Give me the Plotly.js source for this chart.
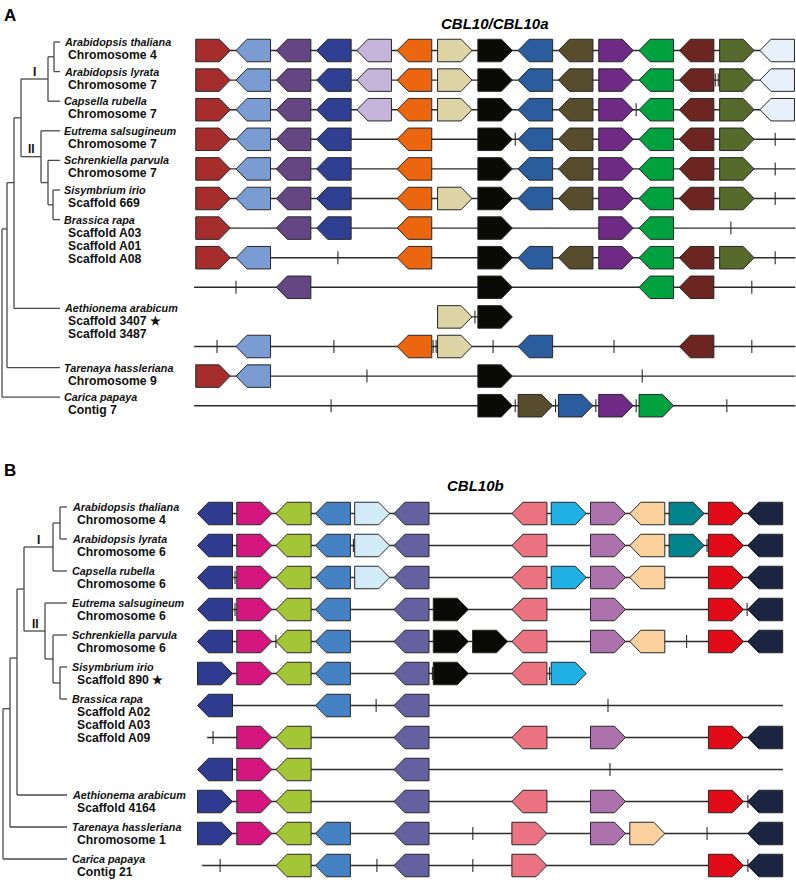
<!DOCTYPE html>
<html><head><meta charset="utf-8">
<script src="https://cdn.plot.ly/plotly-3.0.1.min.js"></script>
<style>html,body{margin:0;padding:0;background:#fff}#chart{width:796px;height:880px}</style>
</head><body><div id="chart"></div>
<script>
// ---------------- DATA: Panel A (CBL10/CBL10a) ----------------
const titleA = 'CBL10/CBL10a';
const famColorsA = ['#a52d2c','#7b9bd3','#634682','#2f3f92','#c6b5da','#ec650f','#ddd4a6','#0b0b06','#2b5c9e','#574c2b','#6e2a85','#00a23f','#6c2521','#566b2b','#e8f1fb'];
// one string per row, one char per column: '>' forward gene, '<' reverse gene, '.' absent
const rowsA = [
  '><<<<<>><<><<><',
  '><<<<<>><<><<><',
  '><<<<<>><<><<><',
  '><<<.<.><<><<>.',
  '><<<.<.><<><<>.',
  '><<<.<>><<><<>.',
  '>.<<.<.>..><...',
  '><...<.><<><<>.',
  '..<....>...<<..',
  '......>>.......',
  '.<...<>.<...<..',
  '><.....>.......',
  '.......>>>>>...'
];
const famSwapA = {12: {8: 9, 9: 8}};           // row -> {column: family}
const lineSpanA = [[0,14],[0,14],[0,14],[0,14.45],[0,14.45],[0,14.45],[0,14.45],[0,14.45],[-0.47,14.45],[6,7],[-0.47,14.45],[0,14.45],[-0.47,14.45]];
const ticksA = [[],[],[10.5],[7.5,13.95],[13.95],[13.95],[12.85],[3.1,13.95],[0.57,13.37],[6.5],[0.1,3.0,6.95,9.95,13.37],[3.82,10.65],[2.93,7.5,8.5,9.5,10.5,12.75]];
const doubleTicksA = [[],[12.5],[],[],[],[],[],[],[],[],[5.5],[],[]];
const speciesA = ['Arabidopsis thaliana','Arabidopsis lyrata','Capsella rubella','Eutrema salsugineum','Schrenkiella parvula','Sisymbrium irio','Brassica rapa','Aethionema arabicum','Tarenaya hassleriana','Carica papaya'];
const subA = [['Chromosome 4'],['Chromosome 7'],['Chromosome 7'],['Chromosome 7'],['Chromosome 7'],['Scaffold 669'],['Scaffold A03','Scaffold A01','Scaffold A08'],['Scaffold 3407 ★','Scaffold 3487'],['Chromosome 9'],['Contig 7']];
const firstRowA = [0,1,2,3,4,5,6,9,11,12];

// ---------------- DATA: Panel B (CBL10b) ----------------
const titleB = 'CBL10b';
const famColorsB = ['#2e3b8f','#d4177f','#a3c636','#4482c4','#d3ebf9','#6461a0','#0b0b06','#0b0b06','#ec7482','#1fb1e6','#ad72ad','#fcd19d','#00838a','#e20a17','#1b2541'];
const rowsB = [
  '<><<><..<>><>><',
  '<><<><..<.><>><',
  '<><<><..<>><.><',
  '<><<.<>.<.>..><',
  '<><<.<>><.><.><',
  '>><<.<>.<>.....',
  '<..<.<.........',
  '.><..<..<.>..><',
  '<><..<.........',
  '>><..<..<.>..><',
  '>><<.<..>.>>..<',
  '..<<.<..>....><'
];
const famSwapB = {};
const lineSpanB = [[0,14],[0,14],[0,14],[0,14],[0,14],[0,9],[0,14.45],[-0.2,14],[0,14.45],[0,14],[0,14],[-0.33,14]];
const ticksB = [[],[12.52],[0.51],[0.51,13.54],[1.55,12.0],[],[4.1,10.0],[-0.05],[10.05],[13.56],[6.56,12.52],[0.13,4.12,6.56,13.56]];
const doubleTicksB = [[],[3.56],[],[],[],[5.57,8.55],[],[],[],[],[],[]];
const speciesB = ['Arabidopsis thaliana','Arabidopsis lyrata','Capsella rubella','Eutrema salsugineum','Schrenkiella parvula','Sisymbrium irio','Brassica rapa','Aethionema arabicum','Tarenaya hassleriana','Carica papaya'];
const subB = [['Chromosome 4'],['Chromosome 6'],['Chromosome 6'],['Chromosome 6'],['Chromosome 6'],['Scaffold 890 ★'],['Scaffold A02','Scaffold A03','Scaffold A09'],['Scaffold 4164'],['Chromosome 1'],['Contig 21']];
const firstRowB = [0,1,2,3,4,5,6,9,10,11];

// ---------------- TREES (topology; x = drawing depth, f = attach fraction) ----------------
function N(x, kids, opts) { return Object.assign({x:x, kids:kids, f:0.5}, opts || {}); }
const treeA = N(2, [9, N(7, [8, N(14, [7, N(21, [
  N(48, [N(54, [0, 1]), 2], {label:'I', lx:34}),
  N(41, [3, N(48, [4, N(53, [5, 6])])], {label:'II', lx:31})
])], {f:0.34})], {f:0.25})]);
const treeB = N(3, [9, N(10, [8, N(17, [7, N(24, [
  N(53, [N(60, [0, 1]), 2], {label:'I', lx:38.5}),
  N(45, [3, N(53, [4, N(60, [5, 6])])], {label:'II', lx:35})
])], {f:0.335})], {f:0.3})]);

// ---------------- LAYOUT (geometry only) ----------------
const FONT = 'Liberation Sans, Arial, sans-serif';
const geomA = {letter:'A', letterY:15, titleX:495, titleY:23, colX0:213, colPitch:40.3, rowY0:50.5, rowPitch:29.6, geneW:34.5, geneH:22.5, tip:11,
  nameX:62, subX:66, leafEnd:60, nameDy:-8.5, subDy:13};
const geomB = {letter:'B', letterY:470, titleX:475, titleY:485, colX0:215, colPitch:39.3, rowY0:513.5, rowPitch:32, geneW:35, geneH:22.5, tip:11,
  nameX:70, subX:75, leafEnd:67, nameDy:-6.5, subDy:13};

const traces = [];
const annotations = [];

function buildPanel(g, rows, famColors, famSwap, lineSpan, ticks, dticks, species, subs, firstRow, tree, title) {
  const cx = c => g.colX0 + g.colPitch * c;
  const ry = r => g.rowY0 + g.rowPitch * r;
  // backbone lines
  const lx = [], ly = [];
  lineSpan.forEach((s, r) => { lx.push(cx(s[0]), cx(s[1]), null); ly.push(ry(r), ry(r), null); });
  traces.push({type:'scatter', mode:'lines', x:lx, y:ly, line:{color:'#2b2b2b', width:1.4}, hoverinfo:'skip'});
  // ticks
  const tx = [], ty = [];
  ticks.forEach((arr, r) => arr.forEach(t => { tx.push(cx(t), cx(t), null); ty.push(ry(r)-6.5, ry(r)+6.5, null); }));
  dticks.forEach((arr, r) => arr.forEach(t => { [-1.5, 1.5].forEach(d => { tx.push(cx(t)+d, cx(t)+d, null); ty.push(ry(r)-6.5, ry(r)+6.5, null); }); }));
  traces.push({type:'scatter', mode:'lines', x:tx, y:ty, line:{color:'#2b2b2b', width:1.1}, hoverinfo:'skip'});
  // genes
  rows.forEach((str, r) => {
    for (let c = 0; c < str.length; c++) {
      const ch = str[c];
      if (ch === '.') continue;
      const fam = (famSwap[r] && famSwap[r][c] !== undefined) ? famSwap[r][c] : c;
      const x0 = cx(c) - g.geneW/2, x1 = cx(c) + g.geneW/2, y = ry(r), h = g.geneH/2;
      let xs, ys;
      if (ch === '>') { xs = [x0, x1-g.tip, x1, x1-g.tip, x0, x0]; ys = [y-h, y-h, y, y+h, y+h, y-h]; }
      else { xs = [x1, x0+g.tip, x0, x0+g.tip, x1, x1]; ys = [y-h, y-h, y, y+h, y+h, y-h]; }
      traces.push({type:'scatter', mode:'lines', x:xs, y:ys, fill:'toself', fillcolor:famColors[fam], line:{color:'#262626', width:1}, hoverinfo:'skip'});
    }
  });
  // labels
  const leafY = species.map((s, i) => ry(firstRow[i]) + g.nameDy);
  species.forEach((s, i) => {
    annotations.push({x:g.nameX, y:leafY[i], xref:'x', yref:'y', xanchor:'left', yanchor:'middle', showarrow:false,
      text:'<b><i>'+s+'</i></b>', font:{family:FONT, size:10.8, color:'#111'}});
    subs[i].forEach((t, k) => annotations.push({x:g.subX, y:leafY[i] + g.subDy*(k+1), xref:'x', yref:'y', xanchor:'left', yanchor:'middle', showarrow:false,
      text:'<b>'+t+'</b>', font:{family:FONT, size:12.2, color:'#111'}}));
  });
  // tree
  const tX = [], tY = [];
  function walk(node) {
    if (typeof node === 'number') return {x:g.leafEnd, y:leafY[node]};
    const kids = node.kids.map(walk);
    const ys = kids.map(k => k.y);
    const top = Math.min(...ys), bot = Math.max(...ys);
    tX.push(node.x, node.x, null); tY.push(top, bot, null);
    kids.forEach(k => { tX.push(node.x, k.x, null); tY.push(k.y, k.y, null); });
    const y = top + node.f * (bot - top);
    if (node.label) annotations.push({x:node.lx, y:y - 7.5, xref:'x', yref:'y', showarrow:false,
      text:'<b>'+node.label+'</b>', font:{family:FONT, size:12, color:'#111'}});
    return {x:node.x, y:y};
  }
  walk(tree);
  traces.push({type:'scatter', mode:'lines', x:tX, y:tY, line:{color:'#4a4a4a', width:1.3}, hoverinfo:'skip'});
  // panel letter and title
  annotations.push({x:2, y:g.letterY, xref:'x', yref:'y', xanchor:'left', yanchor:'middle', showarrow:false,
    text:'<b>'+g.letter+'</b>', font:{family:FONT, size:17, color:'#000'}});
  annotations.push({x:g.titleX, y:g.titleY, xref:'x', yref:'y', xanchor:'center', yanchor:'middle', showarrow:false,
    text:'<b><i>'+title+'</i></b>', font:{family:FONT, size:15, color:'#000'}});
}

buildPanel(geomA, rowsA, famColorsA, famSwapA, lineSpanA, ticksA, doubleTicksA, speciesA, subA, firstRowA, treeA, titleA);
buildPanel(geomB, rowsB, famColorsB, famSwapB, lineSpanB, ticksB, doubleTicksB, speciesB, subB, firstRowB, treeB, titleB);

const layout = {
  width:796, height:880, margin:{l:0, r:0, t:0, b:0}, paper_bgcolor:'#fff', plot_bgcolor:'#fff', showlegend:false,
  xaxis:{range:[0,796], visible:false, fixedrange:true},
  yaxis:{range:[880,0], visible:false, fixedrange:true},
  annotations:annotations
};
Plotly.newPlot('chart', traces, layout, {staticPlot:true, displayModeBar:false});
</script>
</body></html>
